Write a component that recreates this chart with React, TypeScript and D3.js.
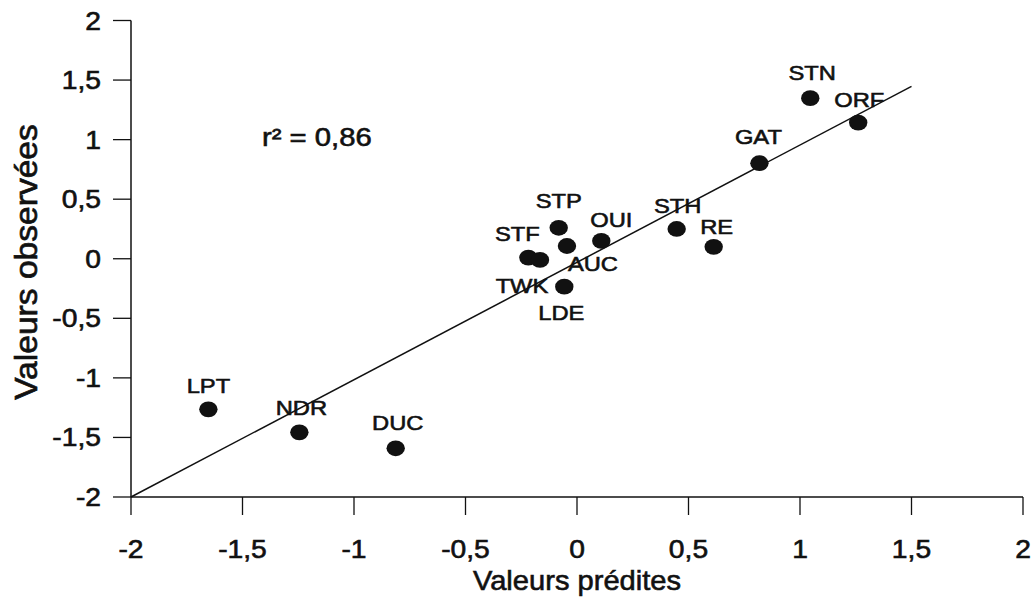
import React from "react";
import * as d3 from "d3";

// sites: predicted (x) vs observed (y)
const sites = ["LPT", "NDR", "DUC", "STF", "TWK", "STP", "AUC", "OUI", "LDE", "STH", "RE", "STN", "ORF", "GAT"];
const predicted = [-1.653, -1.245, -0.813, -0.218, -0.166, -0.082, -0.045, 0.109, -0.057, 0.447, 0.613, 1.046, 1.261, 0.818];
const observed = [-1.264, -1.457, -1.591, 0.01, -0.01, 0.26, 0.107, 0.15, -0.234, 0.25, 0.1, 1.348, 1.143, 0.802];

// label offsets from the point (px)
const labelDx = [0, 2, 2, -11, -18, 0, 26, 10, -3, 1, 3, 2, 1, -1];
const labelDy = [-16, -17, -18, -17, 33, -20, 25, -14, 33, -16, -13, -18, -16, -19];

const ticks = [-2, -1.5, -1, -0.5, 0, 0.5, 1, 1.5, 2];
const tickLabels = ["-2", "-1,5", "-1", "-0,5", "0", "0,5", "1", "1,5", "2"];

// fitted line
const fitSlope = 0.985;
const fitIntercept = -0.03;
const fitRange = [-2, 1.5];
const r2Text = "r² = 0,86";

const FONT = "'Liberation Sans', Arial, sans-serif";
const INK = "#111";
const SX = 1.13; // the scan is a bit stretched sideways

function T(props: any) {
  const { x, y, size, anchor, children, rotate } = props;
  const tf = rotate
    ? `translate(${x},${y}) rotate(-90) scale(1.2,1.12)`
    : `translate(${x},${y}) scale(${props.sx || SX},1)`;
  return (
    <text transform={tf} fontFamily={FONT} fontSize={size} textAnchor={anchor || "middle"}
      fill={INK} stroke={INK} strokeWidth={0.6}>
      {children}
    </text>
  );
}

export default function App() {
  const w = 1035, h = 602;
  const x = d3.scaleLinear().domain([-2, 2]).range([131, 1023]);
  const y = d3.scaleLinear().domain([-2, 2]).range([497, 20.5]);

  const fit = d3.line<number>()
    .x(d => x(d))
    .y(d => y(fitSlope * d + fitIntercept));

  return (
    <svg width={w} height={h} style={{ position: "absolute", left: 0, top: 0, background: "#fff" }}>
      {/* axes */}
      <line x1={131} x2={131} y1={y(2)} y2={y(-2)} stroke={INK} strokeWidth={1.5} />
      <line x1={x(-2)} x2={x(2)} y1={y(-2)} y2={y(-2)} stroke={INK} strokeWidth={1.5} />

      {ticks.map((t, i) => (
        <g key={"y" + i}>
          <line x1={113} x2={131} y1={y(t)} y2={y(t)} stroke={INK} strokeWidth={1.3} />
          <T x={101} y={y(t) + 9} size={25} anchor="end">{tickLabels[i]}</T>
        </g>
      ))}
      {ticks.map((t, i) => (
        <g key={"x" + i}>
          <line x1={x(t)} x2={x(t)} y1={y(-2)} y2={y(-2) + 18} stroke={INK} strokeWidth={1.3} />
          <T x={x(t)} y={558} size={25}>{tickLabels[i]}</T>
        </g>
      ))}

      <T x={577} y={590} size={28} sx={1.04}>Valeurs prédites</T>
      <T x={37} y={262} size={28} rotate>Valeurs observées</T>

      <path d={fit(fitRange) || ""} fill="none" stroke={INK} strokeWidth={1.5} />

      {sites.map((s, i) => (
        <ellipse key={s} cx={x(predicted[i])} cy={y(observed[i])} rx={9.2} ry={7.9} fill={INK} />
      ))}
      {sites.map((s, i) => (
        <T key={"l" + s} x={x(predicted[i]) + labelDx[i]} y={y(observed[i]) + labelDy[i]} size={21}>{s}</T>
      ))}

      <T x={262} y={146} size={25} anchor="start" sx={1.17}>{r2Text}</T>
    </svg>
  );
}
